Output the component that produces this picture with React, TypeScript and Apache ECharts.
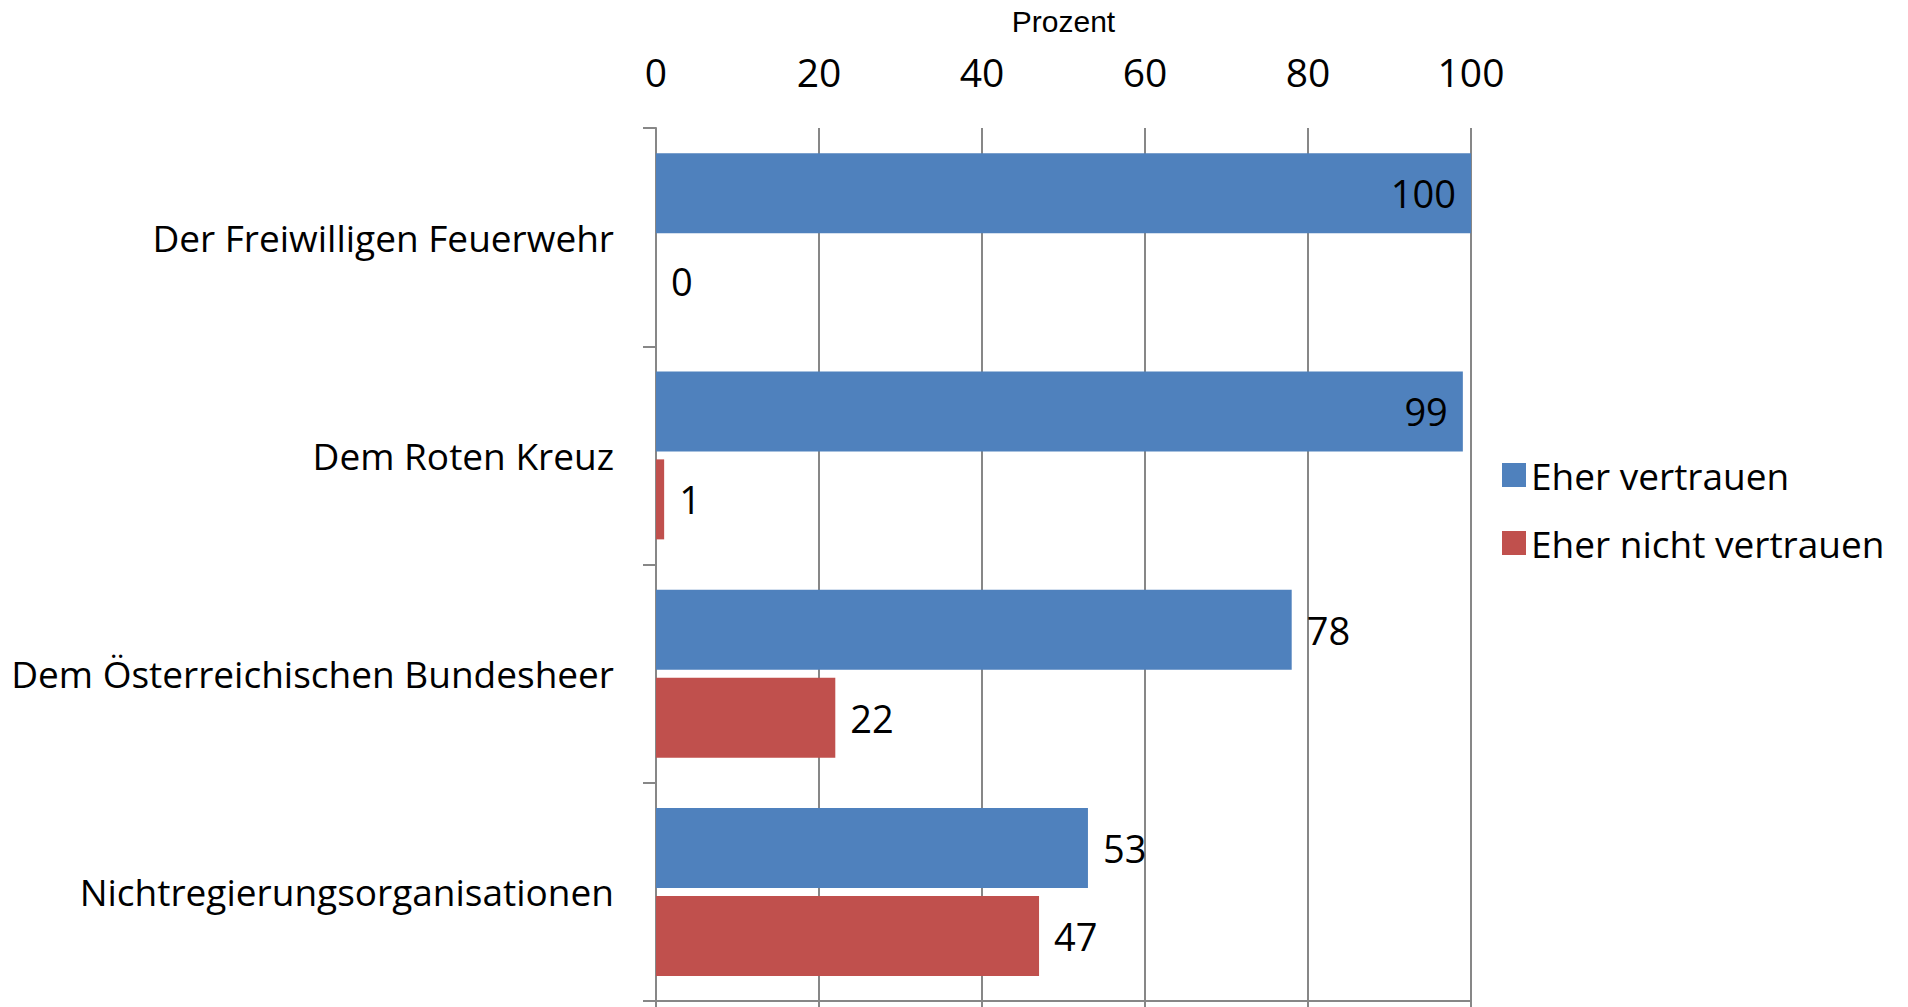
import React, { useEffect, useRef } from "react";
import * as echarts from "echarts";

const categories = [
  "Der Freiwilligen Feuerwehr",
  "Dem Roten Kreuz",
  "Dem Österreichischen Bundesheer",
  "Nichtregierungsorganisationen",
];
const seriesNames = ["Eher vertrauen", "Eher nicht vertrauen"];
const vertrauen = [100, 99, 78, 53];
const nichtVertrauen = [0, 1, 22, 47];
const axisMin = 0;
const axisMax = 100;
const axisInterval = 20;
const axisTitle = "Prozent";

const FONT = "Open Sans";
const GRID_COLOR = "#878787";
const BLUE = "#4F81BD";
const RED = "#C0504D";

function buildData(values: number[]) {
  return values.map((v) => ({
    value: v,
    label: { position: v >= 90 ? "insideRight" : "right" },
  }));
}

export default function App() {
  const ref = useRef<HTMLDivElement>(null);

  useEffect(() => {
    document.body.style.margin = "0";
    if (!ref.current) return;
    const chart = echarts.init(ref.current, undefined, { renderer: "svg" });
    const labelStyle = {
      show: true,
      distance: 15,
      fontSize: 38,
      fontFamily: FONT,
      color: "#000",
    };
    chart.setOption({
      animation: false,
      backgroundColor: "#fff",
      grid: { left: 656, right: 437, top: 128, bottom: 6, containLabel: false },
      legend: {
        data: seriesNames,
        orient: "vertical",
        left: 1497,
        top: 450,
        itemWidth: 24,
        itemHeight: 24,
        itemGap: 28,
        icon: "rect",
        textStyle: { fontSize: 37, fontFamily: FONT, color: "#000", lineHeight: 40 },
      },
      xAxis: [
        {
          type: "value",
          position: "top",
          min: axisMin,
          max: axisMax,
          interval: axisInterval,
          axisLine: { show: false },
          axisTick: { show: false },
          axisLabel: {
            fontSize: 39,
            fontFamily: FONT,
            color: "#000",
            margin: 35,
            lineHeight: 44,
          },
          splitLine: { show: true, lineStyle: { color: GRID_COLOR, width: 2 } },
          name: axisTitle,
          nameLocation: "middle",
          nameGap: 92,
          nameTextStyle: { fontFamily: "Liberation Sans", fontSize: 30, color: "#000" },
        },
        {
          type: "value",
          position: "bottom",
          min: axisMin,
          max: axisMax,
          interval: axisInterval,
          axisLine: { show: true, lineStyle: { color: GRID_COLOR, width: 2 } },
          axisTick: { show: true, length: 8, lineStyle: { color: GRID_COLOR, width: 2 } },
          axisLabel: { show: false },
          splitLine: { show: false },
        },
      ],
      yAxis: {
        type: "category",
        data: categories,
        inverse: true,
        axisLine: { show: true, lineStyle: { color: GRID_COLOR, width: 2 } },
        axisTick: { show: true, length: 13, lineStyle: { color: GRID_COLOR, width: 2 } },
        axisLabel: {
          fontSize: 37,
          fontFamily: FONT,
          color: "#000",
          margin: 42,
          padding: [0, 0, 7, 0],
        },
        splitLine: { show: false },
      },
      series: [
        {
          type: "bar",
          name: seriesNames[0],
          xAxisIndex: 0,
          data: buildData(vertrauen),
          barWidth: 80,
          barGap: "10%",
          itemStyle: { color: BLUE },
          label: labelStyle,
        },
        {
          type: "bar",
          name: seriesNames[1],
          xAxisIndex: 0,
          data: buildData(nichtVertrauen),
          barWidth: 80,
          barGap: "10%",
          itemStyle: { color: RED },
          label: labelStyle,
        },
      ],
    });
    return () => chart.dispose();
  }, []);

  return <div ref={ref} style={{ width: 1908, height: 1007 }} />;
}
